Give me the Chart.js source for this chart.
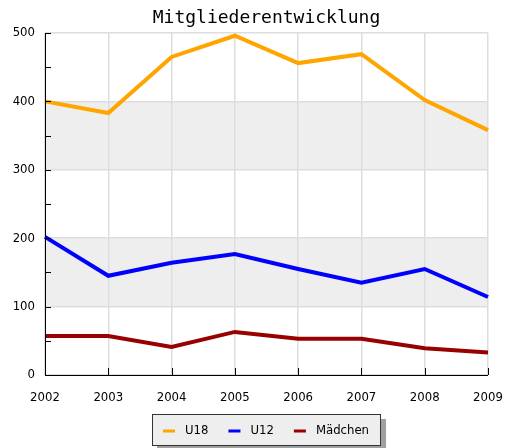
<!DOCTYPE html>
<html>
<head>
<meta charset="utf-8">
<script src="https://cdn.jsdelivr.net/npm/chart.js@4.4.0/dist/chart.umd.min.js"></script>
<style>
  html, body { margin: 0; padding: 0; background: #fff; }
  #wrap { width: 506px; height: 448px; }
</style>
</head>
<body>
<div id="wrap"><canvas id="chart"></canvas></div>
<script>
// Daten
const chartTitle = 'Mitgliederentwicklung';
const years = ['2002', '2003', '2004', '2005', '2006', '2007', '2008', '2009'];
const u18 = [400, 383, 465, 496, 456, 469, 402, 358];
const u12 = [202, 145, 164, 177, 155, 135, 155, 114];
const maedchen = [57, 57, 41, 63, 53, 53, 39, 33];
const yTicks = [0, 100, 200, 300, 400, 500];

const fontFamily = 'DejaVu Sans Condensed, DejaVu Sans';
const tickFont = { family: fontFamily, size: 13 };

// Hintergrund-Streifen, Achsen, Titel und Legende
const deco = {
  id: 'deco',
  beforeDraw(chart) {
    const { ctx, chartArea: a, scales: { y } } = chart;
    ctx.save();
    ctx.fillStyle = '#eeeeee';
    for (let i = 1; i < yTicks.length; i += 2) {
      const top = y.getPixelForValue(yTicks[i + 1]);
      const bot = y.getPixelForValue(yTicks[i]);
      ctx.fillRect(a.left, top, a.right - a.left, bot - top);
    }
    ctx.restore();
  },
  afterDraw(chart) {
    const { ctx, chartArea: a, scales: { x, y } } = chart;
    ctx.save();

    // Achsen
    ctx.strokeStyle = '#000';
    ctx.lineWidth = 1;
    ctx.beginPath();
    ctx.moveTo(a.left + 0.5, a.top);
    ctx.lineTo(a.left + 0.5, a.bottom + 0.5);
    ctx.lineTo(a.right, a.bottom + 0.5);
    // kleine Striche nach innen
    for (let v = 0; v <= yTicks[yTicks.length - 1]; v += 50) {
      const py = Math.round(y.getPixelForValue(v)) + 0.5;
      ctx.moveTo(a.left, py);
      ctx.lineTo(a.left + 6, py);
    }
    years.forEach((yr, i) => {
      const px = Math.round(x.getPixelForValue(i)) + 0.5;
      ctx.moveTo(px, a.bottom);
      ctx.lineTo(px, a.bottom - 7);
    });
    ctx.stroke();

    // Titel
    ctx.fillStyle = '#000';
    ctx.font = '18px DejaVu Sans Mono';
    ctx.textAlign = 'center';
    ctx.textBaseline = 'alphabetic';
    ctx.fillText(chartTitle, (a.left + a.right) / 2, 23);

    // Legende
    ctx.font = '13px ' + fontFamily;
    ctx.textAlign = 'left';
    ctx.textBaseline = 'middle';
    const items = chart.data.datasets.map(ds => ({
      label: ds.label, color: ds.borderColor, w: ctx.measureText(ds.label).width
    }));
    const padL = 11, padR = 12, sw = 12, gap = 10, itemGap = 20;
    let boxW = padL + padR;
    items.forEach((it, i) => {
      boxW += sw + gap + it.w + (i < items.length - 1 ? itemGap : 0);
    });
    const boxH = 32;
    const boxX = Math.round((a.left + a.right) / 2 - boxW / 2);
    const boxY = 414;
    ctx.fillStyle = '#a0a0a0';
    ctx.fillRect(boxX + 5, boxY + 5, boxW, boxH);
    ctx.fillStyle = '#eeeeee';
    ctx.fillRect(boxX, boxY, boxW, boxH);
    ctx.strokeStyle = '#333';
    ctx.lineWidth = 1;
    ctx.strokeRect(boxX + 0.5, boxY + 0.5, boxW - 1, boxH - 1);
    let cx = boxX + padL;
    const cy = boxY + boxH / 2 + 1;
    items.forEach(it => {
      ctx.fillStyle = it.color;
      ctx.fillRect(cx, cy - 1.5, sw, 3);
      ctx.fillStyle = '#000';
      ctx.fillText(it.label, cx + sw + gap, cy);
      cx += sw + gap + it.w + itemGap;
    });

    ctx.restore();
  }
};

const ctx = document.getElementById('chart').getContext('2d');
const chart = new Chart(ctx, {
  type: 'line',
  data: {
    labels: years,
    datasets: [
      { label: 'U18', data: u18, borderColor: '#ffa500' },
      { label: 'U12', data: u12, borderColor: '#0000ff' },
      { label: 'Mädchen', data: maedchen, borderColor: '#990000' }
    ]
  },
  options: {
    responsive: true,
    maintainAspectRatio: false,
    animation: false,
    elements: {
      line: { borderWidth: 4, tension: 0, fill: false },
      point: { radius: 0, hoverRadius: 0 }
    },
    layout: { padding: { top: 33, right: 18, left: 0, bottom: 0 } },
    plugins: {
      legend: { display: false },
      title: { display: false },
      tooltip: { enabled: false }
    },
    scales: {
      x: {
        offset: false,
        grid: { color: '#dddddd', lineWidth: 1.5, drawTicks: false },
        border: { display: false },
        ticks: { color: '#000', font: tickFont, padding: 15, maxRotation: 0, autoSkip: false },
        afterFit: s => { s.height = 73; s.paddingRight = 0; s.paddingLeft = 0; }
      },
      y: {
        min: 0,
        max: 500,
        afterBuildTicks: s => { s.ticks = yTicks.map(v => ({ value: v })); },
        grid: { color: '#dddddd', lineWidth: 1.5, drawTicks: false },
        border: { display: false },
        ticks: { color: '#000', font: tickFont, padding: 10 },
        afterFit: s => { s.width = 45; s.paddingTop = 0; s.paddingBottom = 0; }
      }
    }
  },
  plugins: [deco]
});
</script>
</body>
</html>
